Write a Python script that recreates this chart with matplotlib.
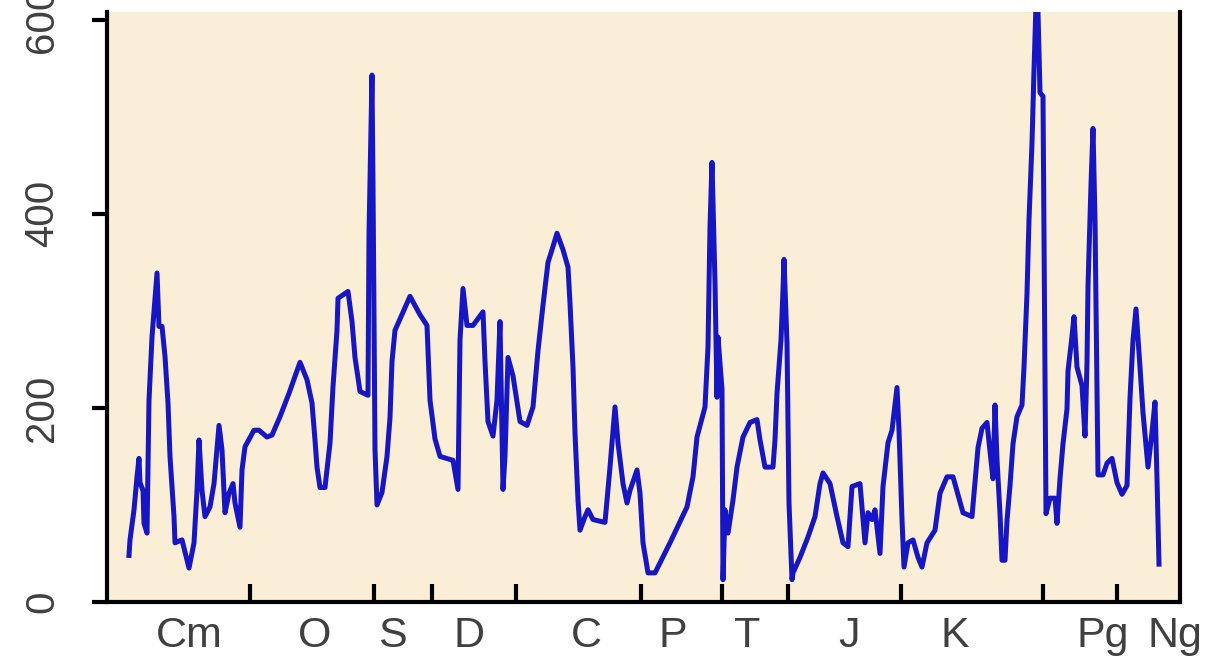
import matplotlib
matplotlib.use("Agg")
import matplotlib.pyplot as plt
import matplotlib.transforms as mtransforms

# ---- data (x: position along the time axis, older -> younger; y: value) ----
x_pos = [22, 23, 27, 30, 32, 33, 36, 37, 40, 42, 45, 50, 52, 55, 58, 61, 63, 67, 68, 75,
         80, 82, 87, 90, 92, 95, 98, 103, 107, 112, 115, 118, 122, 126, 128, 133, 135, 138,
         147, 152, 160, 165, 173, 182, 193, 200, 205, 208, 210, 213, 218, 223, 226, 230,
         231, 241, 245, 248, 253, 261, 262, 265, 266, 268, 270, 275, 280, 283, 285, 288,
         303, 313, 320, 323, 328, 333, 346, 351, 353, 356, 360, 366, 376, 378, 381, 386,
         390, 393, 396, 398, 401, 406, 413, 420, 426, 431, 436, 441, 445, 450, 456, 461,
         463, 466, 468, 471, 473, 478, 481, 486, 498, 503, 508, 511, 516, 520, 523, 530,
         533, 536, 541, 548, 563, 580, 586, 590, 598, 601, 603, 605, 608, 610, 611, 615,
         616, 618, 621, 626, 630, 636, 643, 650, 653, 658, 666, 668, 670, 674, 676, 677,
         680, 682, 685, 686, 693, 701, 708, 713, 716, 723, 730, 736, 741, 745, 753, 758,
         761, 765, 768, 773, 776, 781, 785, 790, 792, 795, 797, 801, 806, 811, 815, 820,
         828, 833, 840, 846, 853, 856, 865, 868, 871, 875, 880, 883, 886, 888, 890, 893,
         895, 898, 900, 903, 906, 910, 915, 917, 920, 922, 925, 927, 930, 933, 936, 938,
         939, 943, 948, 950, 953, 956, 960, 961, 965, 967, 970, 975, 978, 980, 981, 984,
         986, 988, 990, 991, 996, 1000, 1005, 1010, 1015, 1020, 1023, 1026, 1029, 1033,
         1036, 1041, 1045, 1048, 1050, 1052]
values = [48, 64, 95, 129, 148, 123, 115, 81, 71, 208, 273, 339, 284, 284, 253, 205, 150, 88, 61, 64,
          43, 35, 61, 115, 167, 115, 88, 98, 122, 182, 157, 92, 112, 122, 102, 77, 136, 160,
          177, 177, 170, 172, 191, 215, 247, 229, 205, 167, 139, 118, 118, 164, 222, 280,
          313, 320, 289, 252, 217, 213, 379, 543, 431, 157, 100, 113, 150, 190, 248, 280,
          315, 296, 285, 208, 168, 150, 146, 116, 270, 323, 285, 285, 299, 248, 186, 171,
          208, 289, 116, 150, 252, 233, 186, 182, 201, 259, 306, 350, 363, 380, 363, 345,
          308, 242, 174, 105, 74, 88, 95, 85, 82, 139, 201, 164, 122, 102, 115, 136,
          112, 61, 30, 30, 61, 98, 129, 170, 201, 263, 387, 453, 329, 211, 273, 219,
          23, 95, 71, 105, 139, 170, 185, 188, 167, 139, 139, 167, 215, 270, 322, 353,
          267, 102, 23, 30, 46, 67, 88, 122, 133, 122, 88, 61, 57, 119, 122, 61,
          92, 85, 95, 50, 119, 164, 177, 221, 177, 85, 36, 61, 64, 46, 36, 61,
          74, 112, 129, 129, 103, 92, 88, 123, 159, 179, 185, 155, 127, 203, 147, 91,
          43, 43, 84, 120, 163, 191, 203, 242, 318, 394, 473, 548, 650, 525, 521, 234,
          91, 107, 107, 81, 127, 163, 199, 238, 274, 294, 242, 223, 171, 246, 326, 430,
          488, 394, 219, 131, 131, 143, 148, 123, 111, 120, 210, 270, 302, 242, 195, 139,
          175, 206, 127, 39]

period_bounds = [143, 267, 325, 409, 534, 615, 681, 794, 936, 1010]
period_labels = ["Cm", "O", "S", "D", "C", "P", "T", "J", "K", "Pg", "Ng"]
period_label_pos = [82, 208, 285, 362, 479, 566, 640, 742, 848, 996, 1068]
y_ticks = [0, 200, 400, 600]

# ---- figure ----
W, H = 1221, 665
fig = plt.figure(figsize=(W / 100, H / 100), dpi=100)
fig.patch.set_facecolor("white")
ax = fig.add_axes([107 / W, 1 - 602 / H, (1180 - 107) / W, (602 - 12) / H])
ax.set_facecolor("#FBEED6")

ax.plot(x_pos, values, color="#1616C4", lw=3.6, solid_joinstyle="round")

ax.set_xlim(0, 1073)
ax.set_ylim(0, 608)

for s in ["left", "bottom", "right"]:
    ax.spines[s].set_linewidth(3)
    ax.spines[s].set_color("black")
ax.spines["top"].set_visible(False)

font = "Liberation Sans"
tcol = "#404040"

ax.set_yticks(y_ticks)
ax.set_yticklabels([str(v) for v in y_ticks], rotation=90, va="center",
                   fontsize=29, color=tcol, family=font)
ax.tick_params(axis="y", direction="out", length=11, width=3, pad=22)

ax.set_xticks(period_bounds)
ax.set_xticklabels([])
ax.tick_params(axis="x", direction="in", length=13, width=3)

trans = mtransforms.blended_transform_factory(ax.transData, ax.transAxes)
for lab, xp in zip(period_labels, period_label_pos):
    ax.text(xp, (602 - 647) / 590, lab, transform=trans, ha="center", va="baseline",
            fontsize=31, color=tcol, family=font, clip_on=False)

fig.savefig("out.png", dpi=100)
